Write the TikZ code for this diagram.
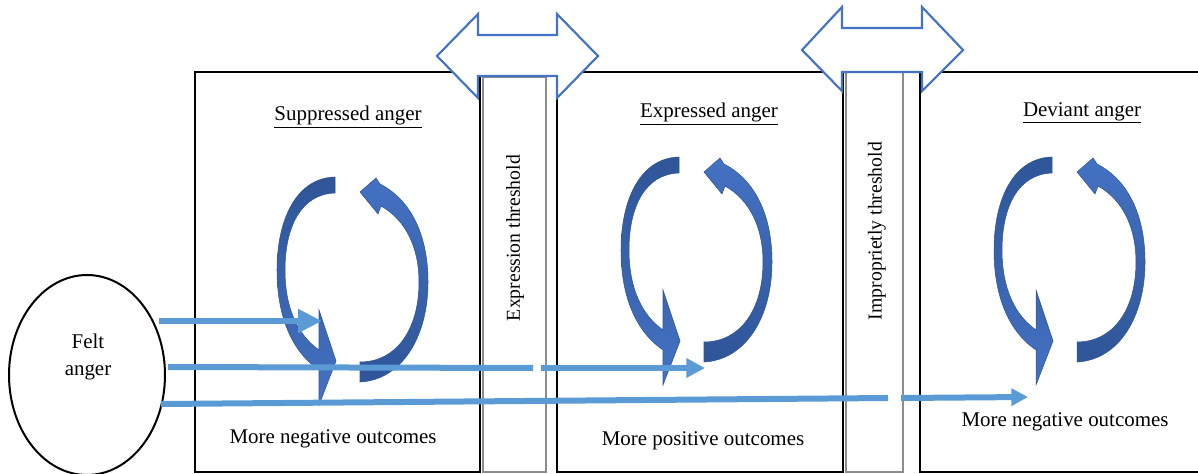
\documentclass[tikz,border=0pt]{standalone}
\usepackage{fontspec}
\setmainfont{Liberation Serif}
\usetikzlibrary{arrows.meta,shapes.geometric}
\definecolor{cycdark}{HTML}{2F5597}
\definecolor{cyclight}{HTML}{4472C4}
\definecolor{flow}{HTML}{5B9BD5}
\definecolor{barline}{HTML}{8C8C8C}

\begin{document}
\begin{tikzpicture}[x=0.75pt,y=-0.75pt,
  stage/.style={draw=black,line width=1.5pt},
  barbox/.style={draw=barline,line width=1.1pt},
  gate/.style={draw=cyclight,line width=1.6pt,fill=white,line join=miter},
  txt/.style={font=\fontsize{15.7}{18}\selectfont,inner sep=0pt},
  vtxt/.style={font=\fontsize{14.8}{17}\selectfont,inner sep=0pt,rotate=90},
  flowline/.style={draw=flow,line width=4.5pt},
  flowtipA/.style={-{Triangle[length=18pt,width=17pt]}},
  flowtipB/.style={-{Triangle[length=14pt,width=14pt]}},
  flowtipC/.style={-{Triangle[length=12.5pt,width=12.5pt]}},
  downarc/.style={draw=cycdark,line width=0.4pt,top color=cycdark,bottom color=cyclight},
  uparc/.style={draw=cycdark,line width=0.4pt,top color=cyclight,bottom color=cycdark}
]
\useasboundingbox (0,0) rectangle (1198,474);

% stage boxes
\draw[stage] (195,72) rectangle (480,472);
\draw[stage] (557,72) rectangle (843,472);
\draw[stage] (920,72) rectangle (1215,472);

% threshold bars
\draw[barbox] (483,77) rectangle (546,472);
\draw[barbox] (846,72) rectangle (903,472);

% two-way gates over the bars
\draw[gate] (437,56) -- (478,14) -- (478,35) -- (557,35) -- (557,14) -- (598,56)
  -- (557,98) -- (557,76) -- (478,76) -- (478,98) -- cycle;
\draw[gate] (802,50) -- (842,7) -- (842,28) -- (922,28) -- (922,7) -- (963,50)
  -- (922,91) -- (922,72) -- (842,72) -- (842,91) -- cycle;

% feedback cycles, one per stage
\foreach \dx/\dy in {-344/20, 0/0, 373/0}{
  \begin{scope}[shift={(\dx,\dy)}]
    \path[downarc] (679,157) .. controls (640,158) and (621,200) .. (621,250)
      .. controls (621,300) and (638,333) .. (663,350) -- (663,385) -- (680,341)
      -- (663,290) -- (663,330) .. controls (643,316) and (629,290) .. (629,250)
      .. controls (629,207) and (645,174) .. (679,173) -- cycle;
    \path[uparc] (704,362) .. controls (745,360) and (772,318) .. (772,262)
      .. controls (772,215) and (755,180) .. (724,164) -- (720,158) -- (704,172)
      -- (722,194) -- (725,186) .. controls (750,200) and (763,228) .. (763,262)
      .. controls (763,310) and (740,342) .. (704,342) -- cycle;
  \end{scope}
}

% labels
\node[txt] (supp) at (348,117) {\underline{Suppressed anger}};
\node[txt] (expr) at (709,114) {\underline{Expressed anger}};
\node[txt] (devi) at (1082,113) {\underline{Deviant anger}};
\node[vtxt] (thr1) at (515,238) {Expression threshold};
\node[vtxt] (thr2) at (877,231) {Improprietly threshold};
\node[txt] (out1) at (333,439) {More negative outcomes};
\node[txt] (out2) at (703,441) {More positive outcomes};
\node[txt] (out3) at (1065,422) {More negative outcomes};

% source of the flows
\node[ellipse,draw=black,line width=1.5pt,minimum width=117pt,minimum height=150pt,
  inner sep=0pt] (felt) at (87,375) {};
\node[txt,align=center] (feltlbl) at (88,357) {Felt\\[2pt]anger};

% flow paths
\coordinate (a0) at (159,321);
\coordinate (a1) at (322,321);
\coordinate (b0) at (168,367);
\coordinate (b1) at (533,368);
\coordinate (b2) at (541,368);
\coordinate (b3) at (705,368);
\coordinate (c0) at (161,404);
\coordinate (c1) at (888,398);
\coordinate (c2) at (901,398);
\coordinate (c3) at (1028,397);

\draw[flowline,line width=5.2pt,flowtipA] (a0) -- (a1);
\draw[flowline] (b0) -- (b1);
\draw[flowline,flowtipB] (b2) -- (b3);
\draw[flowline] (c0) -- (c1);
\draw[flowline,flowtipC] (c2) -- (c3);
\end{tikzpicture}
\end{document}
